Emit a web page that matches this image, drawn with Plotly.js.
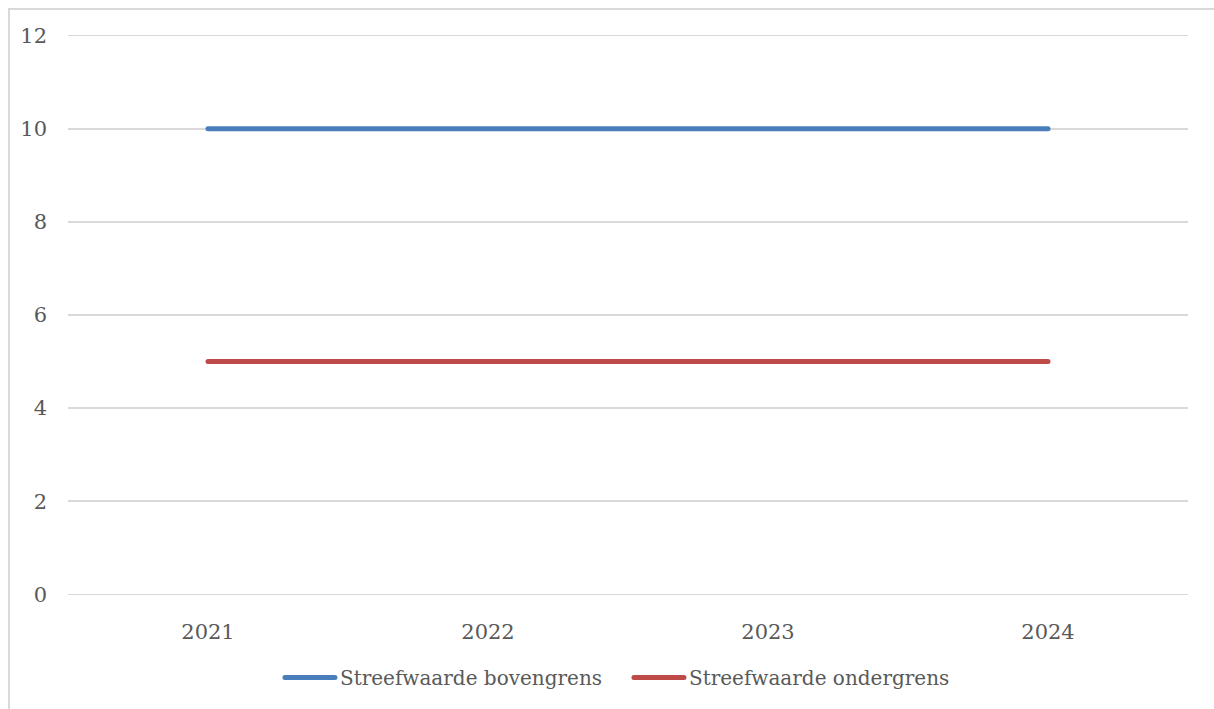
<!DOCTYPE html>
<html>
<head>
<meta charset="utf-8">
<script src="https://cdn.plot.ly/plotly-3.0.1.min.js"></script>
<style>
  html, body { margin: 0; padding: 0; width: 1214px; height: 709px; overflow: hidden; background: #ffffff; }
  #frame { position: absolute; left: 8px; top: 8px; width: 1240px; height: 740px;
           border-left: 2px solid #d9d9d9; border-top: 2px solid #d9d9d9; box-sizing: border-box; }
  #chart { position: absolute; left: 0; top: 0; width: 1214px; height: 709px; }
  #chart path.js-line { stroke-linecap: round; }
  /* let the longer legend line samples extend past the legend box */
  #chart g.legend, #chart g.legend .scrollbox { clip-path: none !important; }
</style>
</head>
<body>
<div id="frame"></div>
<div id="chart"></div>
<script>
// Years on the category axis
const years = ['2021', '2022', '2023', '2024'];
// Target values per year
const upperBound = [10, 10, 10, 10];
const lowerBound = [5, 5, 5, 5];
// Series names
const seriesNames = ['Streefwaarde bovengrens', 'Streefwaarde ondergrens'];
// Y-axis ticks
const yTicks = [0, 2, 4, 6, 8, 10, 12];

const textFont = { family: 'DejaVu Serif, serif', size: 20, color: '#595959' };
const tickFont = { family: 'DejaVu Serif, serif', size: 21, color: '#595959' };

const traces = [
  { x: years, y: upperBound, name: seriesNames[0], type: 'scatter', mode: 'lines',
    line: { color: '#4a7ebb', width: 5 }, hoverinfo: 'skip' },
  { x: years, y: lowerBound, name: seriesNames[1], type: 'scatter', mode: 'lines',
    line: { color: '#be4b48', width: 5 }, hoverinfo: 'skip' }
];

const layout = {
  width: 1214, height: 709,
  margin: { l: 68, r: 26, t: 31, b: 102 },
  paper_bgcolor: 'rgba(0,0,0,0)',
  plot_bgcolor: 'rgba(0,0,0,0)',
  font: textFont,
  showlegend: true,
  legend: { orientation: 'h', x: 0.2071, xanchor: 'left', y: -0.138, yanchor: 'middle',
            bgcolor: 'rgba(0,0,0,0)', font: textFont, entrywidth: 304, entrywidthmode: 'pixels',
            tracegroupgap: 0 },
  xaxis: { type: 'category', range: [-0.5, 3.5], showgrid: false, zeroline: false,
           showline: false, ticks: '', ticklabelstandoff: 18, tickfont: tickFont, fixedrange: true },
  // padded range keeps the 0 and 12 gridlines inside the plot area
  yaxis: { range: [-0.1, 12.1], tickvals: yTicks, showgrid: true, gridcolor: '#d9d9d9', gridwidth: 1.5,
           zeroline: false, showline: false, ticks: '', ticklabelstandoff: 20,
           tickfont: tickFont, fixedrange: true }
};

// Stretch the legend line samples so they reach further left
function stretchLegendLines(gd) {
  gd.querySelectorAll('g.legend path.js-line').forEach(function (p) {
    p.setAttribute('d', 'M-15,0h50');
  });
}

const gd = document.getElementById('chart');
Plotly.newPlot(gd, traces, layout, { displayModeBar: false, staticPlot: true }).then(function () {
  stretchLegendLines(gd);
  gd.on('plotly_afterplot', function () { stretchLegendLines(gd); });
});
</script>
</body>
</html>
